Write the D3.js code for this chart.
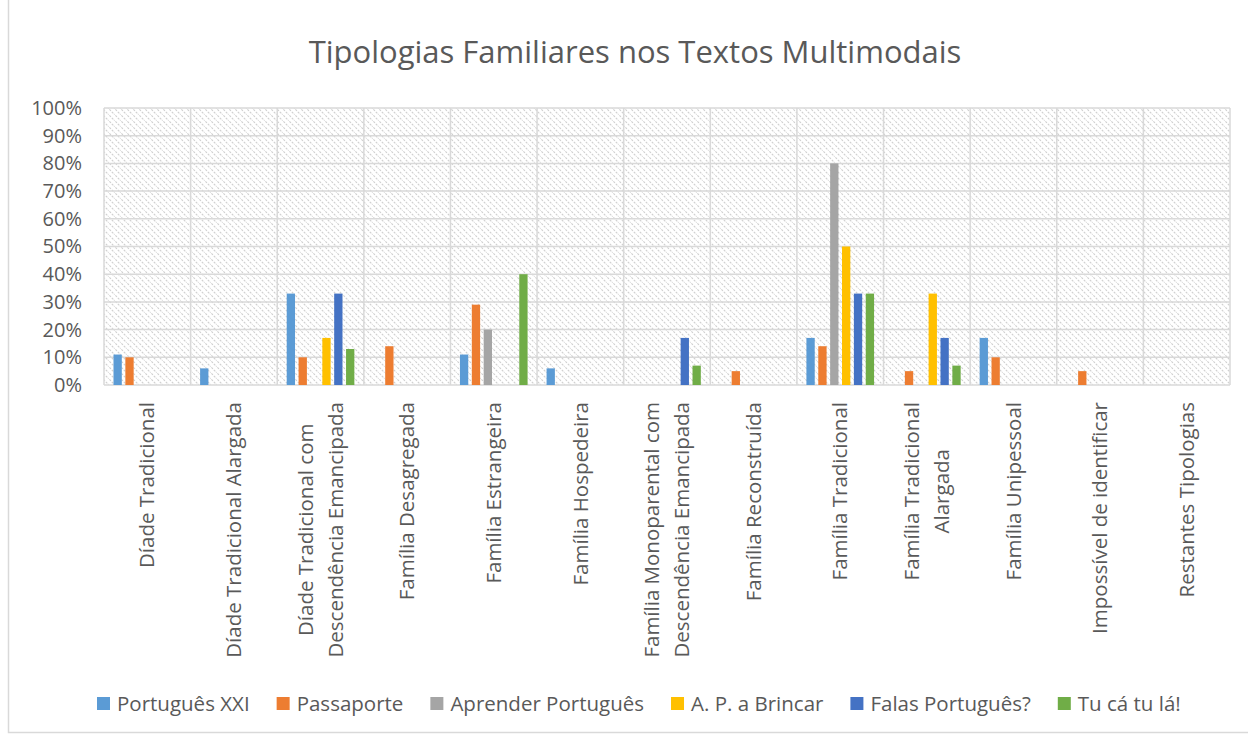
<!DOCTYPE html>
<html>
<head>
<meta charset="utf-8">
<script src="https://cdn.jsdelivr.net/npm/d3@7"></script>
<style>
  body { margin: 0; background: #fff; }
  text { font-family: "Open Sans", sans-serif; fill: #595959; }
</style>
</head>
<body>
<div id="chart"></div>
<script>
// categories (line breaks as in the original axis labels)
var categories = [
    "Díade Tradicional",
    "Díade Tradicional Alargada",
    "Díade Tradicional com\nDescendência Emancipada",
    "Família Desagregada",
    "Família Estrangeira",
    "Família Hospedeira",
    "Família Monoparental com\nDescendência Emancipada",
    "Família Reconstruída",
    "Família Tradicional",
    "Família Tradicional\nAlargada",
    "Família Unipessoal",
    "Impossível de identificar",
    "Restantes Tipologias"
];

var seriesNames = ["Português XXI", "Passaporte", "Aprender Português", "A. P. a Brincar", "Falas Português?", "Tu cá tu lá!"];
var seriesColors = ["#5B9BD5", "#ED7D31", "#A5A5A5", "#FFC000", "#4472C4", "#70AD47"];

// values in %, one array per series, same order as categories
var portuguesXXI   = [11, 6, 33, 0, 11, 6, 0, 0, 17, 0, 17, 0, 0];
var passaporte     = [10, 0, 10, 14, 29, 0, 0, 5, 14, 5, 10, 5, 0];
var aprender       = [0, 0, 0, 0, 20, 0, 0, 0, 80, 0, 0, 0, 0];
var apBrincar      = [0, 0, 17, 0, 0, 0, 0, 0, 50, 33, 0, 0, 0];
var falasPortugues = [0, 0, 33, 0, 0, 0, 17, 0, 33, 17, 0, 0, 0];
var tuCaTuLa       = [0, 0, 13, 0, 40, 0, 7, 0, 33, 7, 0, 0, 0];

var yTicks = [0, 10, 20, 30, 40, 50, 60, 70, 80, 90, 100];

var allSeries = [portuguesXXI, passaporte, aprender, apBrincar, falasPortugues, tuCaTuLa];

var w = 1248, h = 735;
var plot = { left: 104, right: 1230, top: 108, bottom: 385 };

var svg = d3.select("#chart").append("svg")
    .attr("width", w)
    .attr("height", h);

// chart border
svg.append("rect")
    .attr("x", 8.5).attr("y", -1)
    .attr("width", w).attr("height", h - 1.5)
    .attr("fill", "none")
    .attr("stroke", "#d9d9d9")
    .attr("stroke-width", 1.5);

// hatch pattern for plot background
var pat = svg.append("defs").append("pattern")
    .attr("id", "hatch")
    .attr("patternUnits", "userSpaceOnUse")
    .attr("width", 6).attr("height", 6);
pat.append("rect").attr("width", 6).attr("height", 6).attr("fill", "#fff");
pat.append("path")
    .attr("d", "M-1,-1 L7,7 M-4,2 L2,8 M2,-4 L8,2")
    .attr("stroke", "#cfcfcf")
    .attr("stroke-width", 1.1)
    .attr("stroke-dasharray", "2.2,1.2");

var xScale = d3.scaleBand()
    .domain(d3.range(categories.length))
    .range([plot.left, plot.right]);

var yScale = d3.scaleLinear()
    .domain([0, 100])
    .range([plot.bottom, plot.top]);

svg.append("rect")
    .attr("x", plot.left).attr("y", plot.top)
    .attr("width", plot.right - plot.left)
    .attr("height", plot.bottom - plot.top)
    .attr("fill", "url(#hatch)");

// horizontal gridlines
svg.append("g")
    .selectAll("line")
    .data(yTicks)
    .enter().append("line")
    .attr("x1", plot.left).attr("x2", plot.right)
    .attr("y1", d => yScale(d)).attr("y2", d => yScale(d))
    .attr("stroke", "#d9d9d9")
    .attr("stroke-width", 1.5);

// vertical gridlines on category boundaries
svg.append("g")
    .selectAll("line")
    .data(d3.range(categories.length + 1))
    .enter().append("line")
    .attr("x1", d => plot.left + d * xScale.step())
    .attr("x2", d => plot.left + d * xScale.step())
    .attr("y1", plot.top).attr("y2", plot.bottom)
    .attr("stroke", "#d9d9d9")
    .attr("stroke-width", 1.5);

// inner band for the 6 bars of a cluster
var x1 = d3.scaleBand()
    .domain(d3.range(seriesNames.length))
    .range([0, xScale.bandwidth()])
    .paddingOuter(0.8)
    .paddingInner(0.3);

var groups = svg.append("g")
    .selectAll("g")
    .data(allSeries)
    .enter().append("g")
    .attr("fill", (d, i) => seriesColors[i]);

groups.selectAll("rect")
    .data((d, si) => d.map((v, ci) => ({ v: v, ci: ci, si: si })))
    .enter().append("rect")
    .filter(d => d.v > 0)
    .attr("x", d => xScale(d.ci) + x1(d.si))
    .attr("width", x1.bandwidth())
    .attr("y", d => yScale(d.v))
    .attr("height", d => yScale(0) - yScale(d.v));

// y axis labels
var yAxis = d3.axisLeft(yScale)
    .tickValues(yTicks)
    .tickSize(0)
    .tickPadding(22)
    .tickFormat(d => d + "%");

var ya = svg.append("g")
    .attr("transform", "translate(" + plot.left + ",0)")
    .call(yAxis);
ya.select(".domain").remove();
ya.selectAll("text")
    .style("font-size", "20px")
    .style("font-family", "Open Sans")
    .attr("fill", "#595959");

// x axis labels, rotated, top aligned, multi-line centred
var labelSize = 20.5, linePitch = 30;
categories.forEach(function (c, i) {
    var lines = c.split("\n");
    var g = svg.append("g")
        .attr("transform", "translate(" + (xScale(i) + xScale.bandwidth() / 2) + "," + 402 + ") rotate(-90)");
    var texts = g.selectAll("text")
        .data(lines)
        .enter().append("text")
        .style("font-size", labelSize + "px")
        .attr("dy", "0.35em")
        .attr("y", (d, k) => (k - (lines.length - 1) / 2) * linePitch)
        .text(d => d);
    var maxW = d3.max(texts.nodes(), n => n.getComputedTextLength());
    texts.attr("text-anchor", "middle").attr("x", -maxW / 2);
});

// title
svg.append("text")
    .attr("x", 635)
    .attr("y", 63)
    .attr("text-anchor", "middle")
    .style("font-size", "31px")
    .text("Tipologias Familiares nos Textos Multimodais");

// legend: laid out left to right from the first item
var legend = svg.append("g");
var lx = 97;
seriesNames.forEach(function (name, i) {
    var item = legend.append("g").attr("transform", "translate(" + lx + ",697)");
    item.append("rect")
        .attr("width", 13).attr("height", 13)
        .attr("fill", seriesColors[i]);
    var t = item.append("text")
        .attr("x", 20)
        .attr("y", 6.5)
        .attr("dy", "0.35em")
        .style("font-size", "20.5px")
        .text(name);
    lx += 20 + t.node().getComputedTextLength() + 27;
});
</script>
</body>
</html>
